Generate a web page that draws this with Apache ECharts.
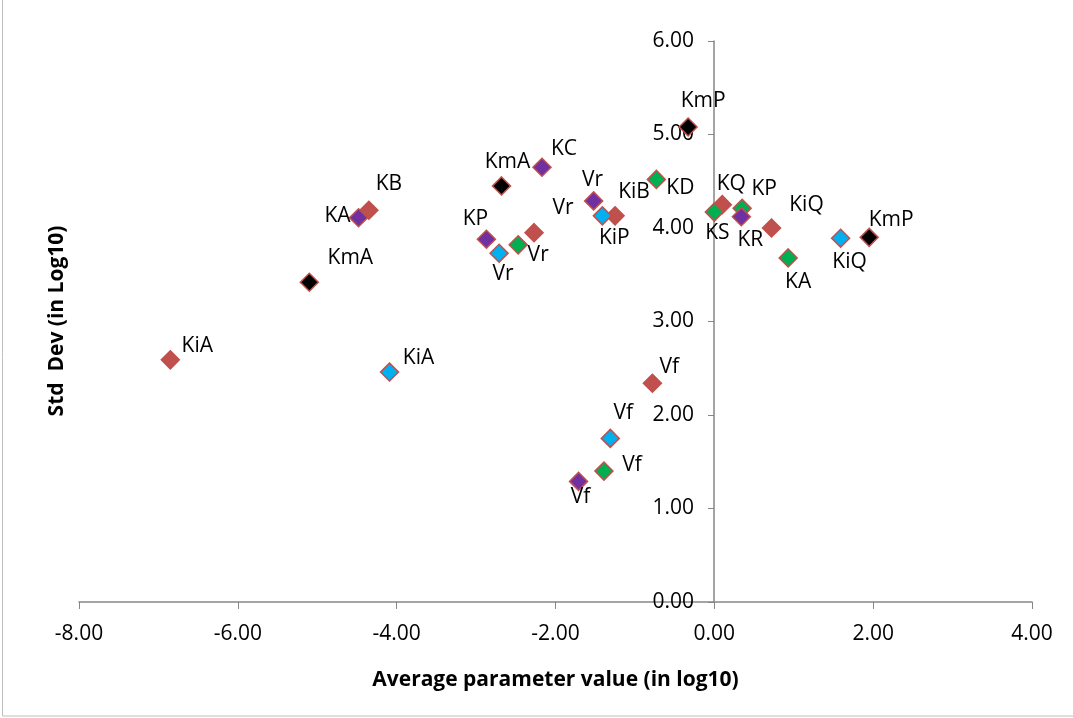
<!DOCTYPE html>
<html>
<head>
<meta charset="utf-8">
<script src="https://cdn.jsdelivr.net/npm/echarts@6/dist/echarts.min.js"></script>
<style>
  html, body { margin: 0; padding: 0; background: #fff; }
  #chart { width: 1073px; height: 718px; }
</style>
</head>
<body>
<div id="chart"></div>
<script>
// values: [x, y] per point, with the point's label
var redNames = ["KiA", "KB", "Vr", "KiB", "Vf", "KQ", "KiQ"];
var redX = [-6.85, -4.35, -2.27, -1.25, -0.78, 0.10, 0.72];
var redY = [2.59, 4.19, 3.95, 4.13, 2.34, 4.25, 4.00];

var greenNames = ["Vr", "KD", "Vf", "KS", "KP", "KA"];
var greenX = [-2.47, -0.73, -1.39, 0.00, 0.35, 0.93];
var greenY = [3.82, 4.52, 1.40, 4.17, 4.21, 3.68];

var blueNames = ["KiA", "Vr", "KiP", "Vf", "KiQ"];
var blueX = [-4.09, -2.71, -1.41, -1.31, 1.59];
var blueY = [2.46, 3.73, 4.13, 1.75, 3.89];

var purpleNames = ["KA", "KC", "KP", "Vr", "Vf", "KR"];
var purpleX = [-4.48, -2.17, -2.87, -1.52, -1.71, 0.34];
var purpleY = [4.11, 4.65, 3.88, 4.29, 1.29, 4.12];

var blackNames = ["KmA", "KmA", "KmP", "KmP"];
var blackX = [-5.10, -2.68, -0.33, 1.95];
var blackY = [3.42, 4.45, 5.08, 3.90];

// where each label sits relative to its point (px)
var redOffsets = [[27, -14], [20, -26], [29, -25], [19, -24], [17, -16], [9, -21], [35, -23]];
var greenOffsets = [[20, 10], [24, 9], [28, -6], [3, 21], [22, -19], [10, 24]];
var blueOffsets = [[29, -14], [4, 21], [12, 22], [13, -25], [9, 24]];
var purpleOffsets = [[-21, -2], [22, -18], [-11, -20], [-1, -21], [2, 16], [9, 23]];
var blackOffsets = [[41, -24], [6, -24], [15, -26], [22, -17]];

var FONT = "'Open Sans', 'Liberation Sans', sans-serif";

function makeSeries(names, xs, ys, offsets, color) {
  var pts = [];
  for (var i = 0; i < xs.length; i++) {
    pts.push({
      value: [xs[i], ys[i]],
      name: names[i],
      label: { offset: offsets[i] }
    });
  }
  return {
    type: "scatter",
    symbol: "diamond",
    symbolSize: 18,
    itemStyle: {
      color: color,
      opacity: 1,
      borderColor: "#C0504D",
      borderWidth: 1.5
    },
    label: {
      show: true,
      position: "inside",
      formatter: "{b}",
      color: "#000",
      textBorderWidth: 0,
      fontSize: 21,
      fontFamily: FONT
    },
    emphasis: { disabled: true },
    data: pts
  };
}

var chart = echarts.init(document.getElementById("chart"));
chart.setOption({
  animation: false,
  grid: { left: 79, right: 41, top: 41, bottom: 116 },
  xAxis: {
    type: "value",
    min: -8,
    max: 4,
    interval: 2,
    splitLine: { show: false },
    axisLine: { onZero: false, lineStyle: { color: "#868686", width: 1.5 } },
    axisTick: { show: true, length: 7, lineStyle: { color: "#868686" } },
    axisLabel: {
      margin: 22,
      color: "#000",
      fontSize: 21,
      fontFamily: FONT,
      formatter: function (v) { return v.toFixed(2); }
    },
    name: "Average parameter value (in log10)",
    nameLocation: "middle",
    nameGap: 68,
    nameTextStyle: { color: "#000", fontSize: 21, fontWeight: "bold", fontFamily: FONT }
  },
  yAxis: {
    type: "value",
    min: 0,
    max: 6,
    interval: 1,
    // sits on x = 0: shift from the grid's left edge
    offset: -635,
    splitLine: { show: false },
    axisLine: { onZero: false, lineStyle: { color: "#868686", width: 1.5 } },
    axisTick: { show: true, length: 6, lineStyle: { color: "#868686" } },
    axisLabel: {
      margin: 20,
      color: "#000",
      fontSize: 21,
      fontFamily: FONT,
      formatter: function (v) { return v.toFixed(2); }
    }
  },
  graphic: [
    {
      type: "rect",
      shape: { x: 2.5, y: -5, width: 1090, height: 721 },
      style: { fill: "none", stroke: "#BFBFBF", lineWidth: 1 },
      silent: true
    },
    {
      type: "text",
      x: 57,
      y: 321,
      rotation: Math.PI / 2,
      style: {
        text: "Std  Dev (in Log10)",
        fill: "#000",
        font: "bold 21px " + FONT,
        textAlign: "center",
        textVerticalAlign: "middle"
      }
    }
  ],
  series: [
    makeSeries(redNames, redX, redY, redOffsets, "#C0504D"),
    makeSeries(greenNames, greenX, greenY, greenOffsets, "#00B050"),
    makeSeries(blueNames, blueX, blueY, blueOffsets, "#00B0F0"),
    makeSeries(purpleNames, purpleX, purpleY, purpleOffsets, "#7030A0"),
    makeSeries(blackNames, blackX, blackY, blackOffsets, "#000000")
  ]
});
</script>
</body>
</html>
